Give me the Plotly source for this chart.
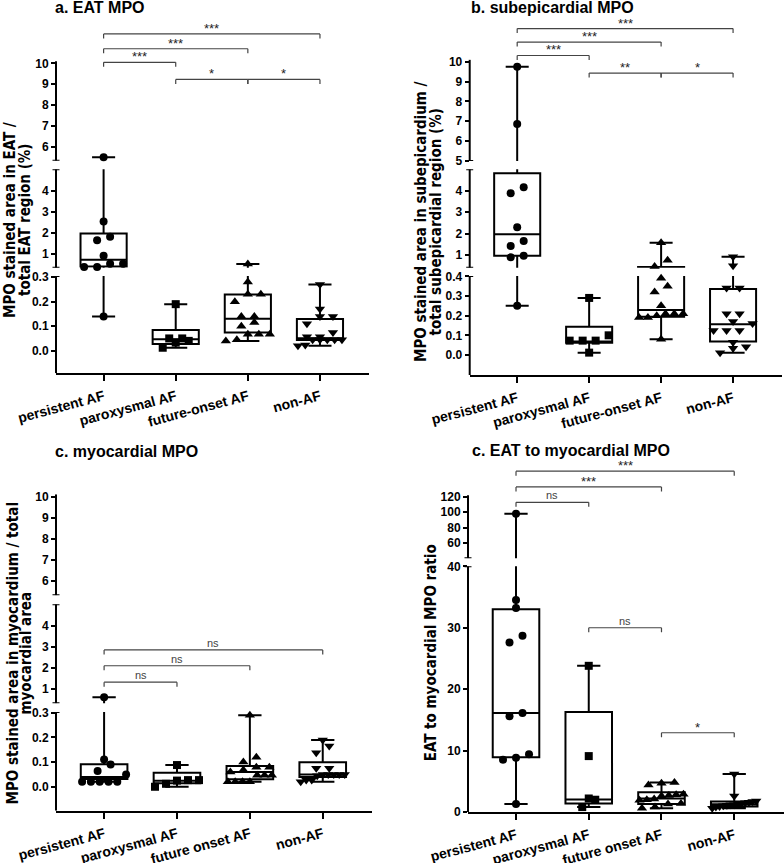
import plotly.graph_objects as go

W, H = 784, 863
FONT = "Liberation Sans, Arial, sans-serif"
NARROW = "Liberation Sans Narrow, Arial Narrow, DejaVu Sans Condensed, sans-serif"

# ---------------- data ----------------
cats_ab = ["persistent AF", "paroxysmal AF", "future-onset AF", "non-AF"]
cats_cd = ["persistent AF", "paroxysmal AF", "future onset AF", "non-AF"]
symbols = ["circle", "square", "triangle-up", "triangle-down"]

# a. EAT MPO (%)
eat_persistent = [5.5, 2.55, 1.82, 1.65, 0.92, 0.54, 0.54, 0.38, 0.38, 0.14]
eat_paroxysmal = [0.19, 0.05, 0.05, 0.04, 0.033, 0.012]
eat_future = [0.52, 0.28, 0.23, 0.23, 0.20, 0.14, 0.14, 0.115, 0.10, 0.067, 0.067, 0.067, 0.045, 0.04]
eat_nonaf = [0.27, 0.17, 0.14, 0.14, 0.11, 0.074, 0.057, 0.057, 0.045, 0.045, 0.045, 0.045, 0.045, 0.023, 0.02]
eat_q1 = [0.40, 0.027, 0.074, 0.044]
eat_median = [0.73, 0.047, 0.13, 0.051]
eat_q3 = [1.98, 0.084, 0.229, 0.129]

# b. subepicardial MPO (%)
sub_persistent = [9.75, 6.85, 4.16, 3.88, 2.29, 1.65, 1.42, 0.97, 0.89, 0.25]
sub_paroxysmal = [0.29, 0.10, 0.073, 0.073, 0.073, 0.012]
sub_future = [1.57, 0.75, 0.46, 0.39, 0.35, 0.32, 0.25, 0.21, 0.21, 0.21, 0.20, 0.19, 0.19, 0.08]
sub_nonaf = [0.92, 0.50, 0.34, 0.34, 0.21, 0.21, 0.17, 0.16, 0.125, 0.125, 0.125, 0.065, 0.042, 0.034, 0.012]
sub_q1 = [0.97, 0.062, 0.195, 0.068]
sub_median = [1.97, 0.068, 0.229, 0.156]
sub_q3 = [4.81, 0.144, 0.44, 0.335]

# c. myocardial MPO (%)
myo_persistent = [0.61, 0.11, 0.09, 0.064, 0.05, 0.02, 0.02, 0.02, 0.02, 0.02]
myo_paroxysmal = [0.088, 0.027, 0.025, 0.027, 0.012, 0.0]
myo_future = [0.29, 0.12, 0.10, 0.079, 0.079, 0.068, 0.06, 0.047, 0.047, 0.047, 0.02, 0.02, 0.02, 0.02]
myo_nonaf = [0.19, 0.165, 0.138, 0.075, 0.075, 0.05, 0.05, 0.05, 0.05, 0.05, 0.045, 0.027, 0.027, 0.02]
myo_q1 = [0.031, 0.014, 0.03, 0.04]
myo_median = [0.04, 0.024, 0.06, 0.05]
myo_q3 = [0.091, 0.057, 0.084, 0.099]

# d. EAT to myocardial MPO ratio
ratio_persistent = [98, 34.5, 33.2, 28.7, 27.6, 16.1, 15.6, 9.4, 8.85, 8.5, 1.3]
ratio_paroxysmal = [23.8, 9.1, 2.2, 2.0, 0.8]
ratio_future = [4.8, 4.7, 4.4, 2.9, 2.8, 2.7, 2.6, 2.1, 2.0, 1.9, 1.4, 1.3, 0.8, 0.6]
ratio_nonaf = [6.2, 2.6, 1.8, 1.7, 1.6, 1.5, 1.4, 1.3, 1.2, 1.2, 1.1, 1.0, 0.9, 0.8, 0.6]
ratio_q1 = [8.9, 1.4, 1.3, 0.9]
ratio_median = [16.1, 2.05, 2.2, 1.25]
ratio_q3 = [33.0, 16.3, 3.2, 1.7]

# significance comparisons: (group i, group j, level, label, segment)
eat_stats = [(0, 3, 11.41, "***", 2), (0, 2, 10.70, "***", 2), (0, 1, 10.05, "***", 2),
             (1, 2, 9.23, "*", 2), (2, 3, 9.23, "*", 2)]
sub_stats = [(0, 3, 11.68, "***", 2), (0, 2, 11.0, "***", 2), (0, 1, 10.32, "***", 2),
             (1, 2, 9.43, "**", 2), (2, 3, 9.43, "*", 2)]
myo_stats = [(0, 3, 2.85, "ns", 1), (0, 2, 2.1, "ns", 1), (0, 1, 1.32, "ns", 1)]
ratio_stats = [(0, 3, 153, "***", 1), (0, 2, 132.6, "***", 1), (0, 1, 112.7, "ns", 1),
               (1, 2, 30.0, "ns", 0), (2, 3, 12.9, "*", 0)]

# ---------------- layout geometry (page pixels) ----------------
panels = [
    dict(title="a. EAT MPO", title_xy=(53, 7.5), cats=cats_ab,
         groups=[eat_persistent, eat_paroxysmal, eat_future, eat_nonaf],
         q1=eat_q1, med=eat_median, q3=eat_q3, stats=eat_stats,
         xpx=(56, 369),
         segs=[dict(px=(276, 373.3), rng=(-0.0924, 0.305), ticks=[0, 0.1, 0.2, 0.3], fmt=".1f"),
               dict(px=(169.3, 267.7), rng=(0.348, 5.03), ticks=[1, 2, 3, 4], fmt="d"),
               dict(px=(20, 160.7), rng=(5.33, 12.08), ticks=[6, 7, 8, 9, 10], fmt="d", line_top=10.1)],
         ytitle=[("MPO stained area in EAT /", 10), ("total EAT region (%)", 25)], ytitle_y=220),
    dict(title="b. subepicardial MPO", title_xy=(468.7, 7.5), cats=cats_ab,
         groups=[sub_persistent, sub_paroxysmal, sub_future, sub_nonaf],
         q1=sub_q1, med=sub_median, q3=sub_q3, stats=sub_stats,
         xpx=(469.7, 782),
         segs=[dict(px=(276, 375), rng=(-0.1017, 0.4015), ticks=[0, 0.1, 0.2, 0.3, 0.4], fmt=".1f"),
               dict(px=(169.3, 267.7), rng=(0.407, 5.0), ticks=[1, 2, 3, 4], fmt="d"),
               dict(px=(14, 161), rng=(4.98, 12.42), ticks=[5, 6, 7, 8, 9, 10], fmt="d", line_top=10.1)],
         ytitle=[("MPO stained area in subepicardium /", 421), ("total subepicardial region (%)", 435.5)],
         ytitle_y=222),
    dict(title="c. myocardial MPO", title_xy=(53.3, 452), cats=cats_cd,
         groups=[myo_persistent, myo_paroxysmal, myo_future, myo_nonaf],
         q1=myo_q1, med=myo_median, q3=myo_q3, stats=myo_stats,
         xpx=(56, 372.3),
         segs=[dict(px=(712, 810.7), rng=(-0.097, 0.303), ticks=[0, 0.1, 0.2, 0.3], fmt=".1f"),
               dict(px=(604.3, 703.3), rng=(0.32, 5.01), ticks=[1, 2, 3, 4], fmt="d"),
               dict(px=(494.2, 595.3), rng=(5.32, 10.12), ticks=[6, 7, 8, 9, 10], fmt="d")],
         ytitle=[("MPO stained area in myocardium / total", 12.5), ("myocardial area", 25.5)],
         ytitle_y=653),
    dict(title="c. EAT to myocardial MPO", title_xy=(469.7, 450), cats=cats_cd,
         groups=[ratio_persistent, ratio_paroxysmal, ratio_future, ratio_nonaf],
         q1=ratio_q1, med=ratio_median, q3=ratio_q3, stats=ratio_stats,
         xpx=(468, 783.7),
         segs=[dict(px=(566.3, 812), rng=(0, 40), ticks=[0, 10, 20, 30, 40], fmt="d"),
               dict(px=(460, 558.3), rng=(40.2, 167.5), ticks=[60, 80, 100, 120], fmt="d", line_top=122)],
         ytitle=[("EAT to myocardial MPO ratio", 431.3)], ytitle_y=653),
]

XRANGE = (-0.66, 3.68)
MSIZE = {"circle": 8, "square": 8, "triangle-up": 9, "triangle-down": 9}

fig = go.Figure()
shapes, annotations = [], []
layout = {}


def seg_index(v, segs):
    for k, s in enumerate(segs):
        if s["rng"][0] <= v <= s["rng"][1]:
            return k
    return min(range(len(segs)),
               key=lambda k: min(abs(v - segs[k]["rng"][0]), abs(v - segs[k]["rng"][1])))


def to_py(v, seg):
    top, bot = seg["px"]
    lo, hi = seg["rng"]
    return bot - (v - lo) / (hi - lo) * (bot - top)


def swarm(pys, row_gap=7.5, step=13.0, max_half=22.0):
    order = sorted(range(len(pys)), key=lambda i: -pys[i])
    offs = [0.0] * len(pys)
    rows, cur, start = [], [], None
    for i in order:
        if cur and abs(pys[i] - start) > row_gap:
            rows.append(cur)
            cur = []
        if not cur:
            start = pys[i]
        cur.append(i)
    if cur:
        rows.append(cur)
    for r in rows:
        n = len(r)
        if n < 2:
            continue
        s = min(step, 2 * max_half / (n - 1))
        for k, i in enumerate(r):
            offs[i] = (k - (n - 1) / 2) * s
    return offs


yi = 0
for pi, P in enumerate(panels):
    xi = pi + 1
    xname = "x" if xi == 1 else f"x{xi}"
    xkey = "xaxis" if xi == 1 else f"xaxis{xi}"
    xl, xr = P["xpx"]
    px_per_x = (xr - xl) / (XRANGE[1] - XRANGE[0])
    yrefs = []
    for k, S in enumerate(P["segs"]):
        yi += 1
        yname = "y" if yi == 1 else f"y{yi}"
        ykey = "yaxis" if yi == 1 else f"yaxis{yi}"
        yrefs.append(yname)
        top, bot = S["px"]
        lo, hi = S["rng"]
        layout[ykey] = dict(
            domain=[1 - bot / H, 1 - top / H], range=[lo, hi], anchor=xname,
            showline=False, showgrid=False, zeroline=False, automargin=False,
            tickmode="array", tickvals=S["ticks"], tickformat=S["fmt"],
            ticks="outside", ticklen=4, tickwidth=1.5, tickcolor="black",
            tickfont=dict(family=FONT, size=12, color="black", weight="bold"),
            fixedrange=True,
        )
        shapes.append(dict(type="line", xref="paper", yref=yname, x0=xl / W, x1=xl / W,
                           y0=lo, y1=S.get("line_top", hi), line=dict(color="black", width=2)))
        marks = []
        if k > 0:
            marks.append(lo)
        if k < len(P["segs"]) - 1:
            marks.append(hi)
        for mv in marks:
            shapes.append(dict(type="line", xref="paper", yref=yname, xsizemode="pixel",
                               xanchor=xl / W, x0=-3.5, x1=3.5, y0=mv, y1=mv,
                               line=dict(color="black", width=2)))
        # boxes for this segment (only groups whose span reaches into it)
        for gi, vals in enumerate(P["groups"]):
            lf, uf = min(vals), max(vals)
            if uf < lo or lf > hi:
                continue
            fig.add_trace(go.Box(
                x=[gi], q1=[P["q1"][gi]], median=[P["med"][gi]], q3=[P["q3"][gi]],
                lowerfence=[lf], upperfence=[uf],
                boxpoints=False, width=0.64, whiskerwidth=0.5,
                line=dict(color="black", width=2), fillcolor="white",
                xaxis=xname, yaxis=yname, showlegend=False, hoverinfo="skip",
            ))
    layout[xkey] = dict(
        domain=[xl / W, xr / W], range=list(XRANGE), anchor=yrefs[0],
        showline=True, linecolor="black", linewidth=2, showgrid=False, zeroline=False,
        tickmode="array", tickvals=[0, 1, 2, 3], ticktext=P["cats"], tickangle=-15,
        ticks="outside", ticklen=6, tickwidth=2, tickcolor="black", automargin=False,
        ticklabelstandoff=2,
        tickfont=dict(family=FONT, size=14, color="black", weight="bold"), fixedrange=True,
    )
    # points
    for gi, vals in enumerate(P["groups"]):
        segi = [seg_index(v, P["segs"]) for v in vals]
        pys = [to_py(v, P["segs"][s]) for v, s in zip(vals, segi)]
        offs = swarm(pys)
        for k in range(len(P["segs"])):
            xs = [gi + o / px_per_x for o, s in zip(offs, segi) if s == k]
            ys = [v for v, s in zip(vals, segi) if s == k]
            if not ys:
                continue
            fig.add_trace(go.Scatter(
                x=xs, y=ys, mode="markers", cliponaxis=False,
                marker=dict(symbol=symbols[gi], size=MSIZE[symbols[gi]], color="black",
                            line=dict(width=0)),
                xaxis=xname, yaxis=yrefs[k], showlegend=False, hoverinfo="skip",
            ))
    # significance brackets
    for (i, j, lvl, txt, sk) in P["stats"]:
        yref = yrefs[sk]
        shapes.append(dict(type="line", xref=xname, yref=yref, x0=i, x1=j, y0=lvl, y1=lvl,
                           line=dict(color="#444", width=1.2)))
        for xx in (i, j):
            shapes.append(dict(type="line", xref=xname, yref=yref, ysizemode="pixel", yanchor=lvl,
                               x0=xx, x1=xx, y0=0, y1=-4.5, line=dict(color="#444", width=1.2)))
        is_ns = txt == "ns"
        annotations.append(dict(xref=xname, yref=yref, x=(i + j) / 2, y=lvl, text=txt,
                                showarrow=False, yanchor="bottom", xanchor="center",
                                yshift=-1 if is_ns else -4,
                                font=dict(family=FONT, size=11 if is_ns else 13,
                                          color="#444" if is_ns else "#222")))
    # titles
    tx, ty = P["title_xy"]
    annotations.append(dict(xref="paper", yref="paper", x=tx / W, y=1 - ty / H, text=P["title"],
                            showarrow=False, xanchor="left", yanchor="middle",
                            font=dict(family=FONT, size=16, color="black", weight="bold")))
    for txt, lx in P["ytitle"]:
        annotations.append(dict(xref="paper", yref="paper", x=lx / W, y=1 - P["ytitle_y"] / H,
                                text=txt, textangle=-90, showarrow=False,
                                xanchor="center", yanchor="middle",
                                font=dict(family=NARROW, size=15, color="black", weight="bold")))

fig.update_layout(
    width=W, height=H, margin=dict(l=0, r=0, t=0, b=0),
    paper_bgcolor="white", plot_bgcolor="white", boxmode="overlay",
    shapes=shapes, annotations=annotations, showlegend=False,
    **layout,
)
fig.write_html("out.html", config={"displayModeBar": False},
               post_script="document.body.style.margin='0px';")
